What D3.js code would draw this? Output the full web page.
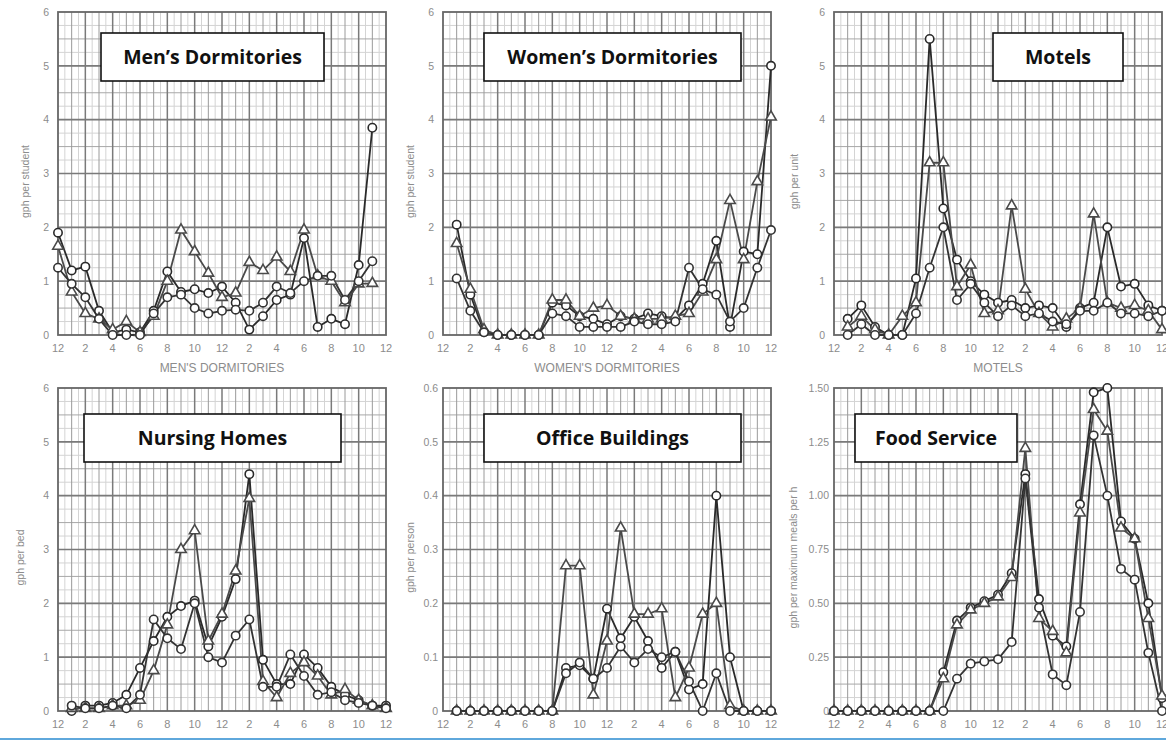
<!DOCTYPE html>
<html>
<head>
<meta charset="utf-8">
<script src="https://cdn.jsdelivr.net/npm/d3@7"></script>
<style>
body { margin: 0; background: #fff; }
svg { display: block; }
.tick-label, .axis-title { font-family: "Liberation Sans", Arial, sans-serif; fill: #8c8c8c; }
.box-title { font-family: "Open Sans", sans-serif; font-weight: 700; fill: #111; }
</style>
</head>
<body>
<div id="chart"></div>
<script>
// hour positions (0 = midnight)
var hours0to23 = [0,1,2,3,4,5,6,7,8,9,10,11,12,13,14,15,16,17,18,19,20,21,22,23];
var hours1to24 = [1,2,3,4,5,6,7,8,9,10,11,12,13,14,15,16,17,18,19,20,21,22,23,24];
var hours0to24 = [0,1,2,3,4,5,6,7,8,9,10,11,12,13,14,15,16,17,18,19,20,21,22,23,24];
var hourTicks = [0,2,4,6,8,10,12,14,16,18,20,22,24];
var hourLabels = ["12","2","4","6","8","10","12","2","4","6","8","10","12"];

// men's dormitories, gph per student
var menCircleA = [1.9,1.2,1.27,0.45,0.05,0.1,0.05,0.45,1.18,0.8,0.85,0.78,0.9,0.6,0.1,0.35,0.65,0.75,1.8,0.15,0.3,0.2,1.3,3.85];
var menTriangle = [1.65,0.8,0.4,0.3,0.1,0.25,0.05,0.35,1.0,1.95,1.55,1.15,0.7,0.78,1.35,1.2,1.45,1.18,1.95,1.1,1.0,0.6,0.95,0.96];
var menCircleB = [1.25,0.95,0.7,0.3,0.0,0.0,0.0,0.4,0.7,0.75,0.5,0.4,0.45,0.47,0.45,0.6,0.9,0.78,1.0,1.1,1.1,0.65,1.0,1.37];

// women's dormitories, gph per student
var womenCircleA = [2.05,0.75,0.05,0,0,0,0,0.6,0.55,0.35,0.3,0.2,0.35,0.3,0.4,0.35,0.3,0.55,0.95,1.75,0.15,1.55,1.5,5.0];
var womenTriangle = [1.7,0.85,0.1,0,0,0,0,0.65,0.65,0.35,0.5,0.55,0.35,0.3,0.3,0.3,0.35,0.4,0.8,1.4,2.5,1.4,2.85,4.05];
var womenCircleB = [1.05,0.45,0.05,0,0,0,0,0.4,0.35,0.15,0.15,0.15,0.15,0.25,0.2,0.2,0.25,1.25,0.85,0.75,0.25,0.5,1.25,1.95];

// motels, gph per unit
var motelCircleA = [0.3,0.55,0.15,0,0,1.05,5.5,2.35,1.4,1.0,0.75,0.6,0.65,0.5,0.55,0.5,0.15,0.5,0.6,2.0,0.9,0.95,0.55,0.45];
var motelTriangle = [0.15,0.35,0.1,0,0.35,0.6,3.2,3.2,0.9,1.3,0.4,0.45,2.4,0.85,0.4,0.15,0.3,0.5,2.25,0.6,0.5,0.55,0.45,0.1];
var motelCircleB = [0,0.2,0,0,0,0.4,1.25,2.0,0.65,0.95,0.6,0.35,0.55,0.35,0.4,0.25,0.2,0.45,0.45,0.6,0.4,0.4,0.35,0.45];

// nursing homes, gph per bed
var nursingCircleA = [0,0.1,0.1,0.15,0.3,0.8,1.3,1.75,1.95,2.05,1.2,1.75,2.45,4.4,0.95,0.5,0.5,1.05,0.8,0.45,0.3,0.2,0.1,0.1];
var nursingTriangle = [0.05,0.05,0.05,0.1,0.1,0.2,0.75,1.6,3.0,3.35,1.3,1.8,2.6,3.95,0.55,0.25,0.7,0.9,0.65,0.3,0.4,0.2,0.1,0.05];
var nursingCircleB = [0.1,0.05,0.05,0.1,0.05,0.3,1.7,1.35,1.15,2.0,1.0,0.9,1.4,1.7,0.45,0.45,1.05,0.65,0.3,0.35,0.2,0.15,0.1,0.05];

// office buildings, gph per person
var officeCircleA = [0,0,0,0,0,0,0,0,0.08,0.085,0.06,0.19,0.135,0.175,0.13,0.08,0.11,0.04,0.05,0.40,0.10,0,0,0];
var officeTriangle = [0,0,0,0,0,0,0,0,0.27,0.27,0.03,0.13,0.34,0.18,0.18,0.19,0.025,0.08,0.18,0.20,0.01,0,0,0];
var officeCircleB = [0,0,0,0,0,0,0,0,0.07,0.09,0.06,0.08,0.12,0.09,0.115,0.10,0.11,0.055,0,0.07,0,0,0,0];

// food service (type A), gph per maximum meals per h
var foodCircleA = [0,0,0,0,0,0,0,0,0.18,0.42,0.48,0.51,0.54,0.64,1.10,0.52,0.35,0.30,0.96,1.48,1.50,0.88,0.80,0.50,0.06];
var foodTriangle = [0,0,0,0,0,0,0,0,0.15,0.40,0.47,0.50,0.53,0.62,1.22,0.43,0.37,0.27,0.92,1.40,1.30,0.85,0.80,0.43,0.07];
var foodCircleB = [0,0,0,0,0,0,0,0,0,0.15,0.22,0.23,0.24,0.32,1.08,0.48,0.17,0.12,0.46,1.28,1.00,0.66,0.61,0.27,0];

var titles = ["Men\u2019s Dormitories","Women\u2019s Dormitories","Motels","Nursing Homes","Office Buildings","Food Service"];
var xTitles = ["MEN'S DORMITORIES","WOMEN'S DORMITORIES","MOTELS","NURSING HOMES","OFFICE BUILDINGS","FOOD SERVICE (TYPE A)"];
var yTitles = ["gph per student","gph per student","gph per unit","gph per bed","gph per person","gph per maximum meals per h"];

var ticks0to6 = [0,1,2,3,4,5,6];
var ticksOffice = [0,0.1,0.2,0.3,0.4,0.5,0.6];
var ticksFood = [0,0.25,0.5,0.75,1,1.25,1.5];
var labels0to6 = ["0","1","2","3","4","5","6"];
var labelsOffice = ["0","0.1","0.2","0.3","0.4","0.5","0.6"];
var labelsFood = ["0","0.25","0.50","0.75","1.00","1.25","1.50"];

var width = 1166, height = 743;
var svg = d3.select("#chart").append("svg")
    .attr("width", width)
    .attr("height", height);

var colLeft = [58, 443, 834], rowTop = [12, 388];
var plotW = 328, plotH = 323;

// title box positions [x, y, w]
var boxes = [[101,33,223],[484,33,257],[993,33,130],[84,414,257],[484,414,257],[855,414,162]];
var yTitleOffset = [33, 33, 40, 38, 33, 41];

var panels = [
  {hours: hours0to23, series: [menCircleA, menTriangle, menCircleB], max: 6, ticks: ticks0to6, labels: labels0to6, pad: 9},
  {hours: hours1to24, series: [womenCircleA, womenTriangle, womenCircleB], max: 6, ticks: ticks0to6, labels: labels0to6, pad: 9},
  {hours: hours1to24, series: [motelCircleA, motelTriangle, motelCircleB], max: 6, ticks: ticks0to6, labels: labels0to6, pad: 9},
  {hours: hours1to24, series: [nursingCircleA, nursingTriangle, nursingCircleB], max: 6, ticks: ticks0to6, labels: labels0to6, pad: 9},
  {hours: hours1to24, series: [officeCircleA, officeTriangle, officeCircleB], max: 0.6, ticks: ticksOffice, labels: labelsOffice, pad: 5},
  {hours: hours0to24, series: [foodCircleA, foodTriangle, foodCircleB], max: 1.5, ticks: ticksFood, labels: labelsFood, pad: 5}
];

var markerTypes = [d3.symbolCircle, d3.symbolTriangle, d3.symbolCircle];
var lineColors = ["#2a2a2a", "#4a4a4a", "#333"];

panels.forEach(function(p, i) {
    var left = colLeft[i % 3], top = rowTop[Math.floor(i / 3)];
    var x = d3.scaleLinear().domain([0, 24]).range([0, plotW]);
    var y = d3.scaleLinear().domain([0, p.max]).range([plotH, 0]);
    var step = p.ticks[1] - p.ticks[0];

    var g = svg.append("g").attr("transform", "translate(" + left + "," + top + ")");

    // grid: half hour, hour, even hour
    var halfHours = d3.range(0.5, 24, 1);
    g.append("g").selectAll("line").data(halfHours).enter().append("line")
        .attr("x1", function(d) { return x(d); }).attr("x2", function(d) { return x(d); })
        .attr("y1", 0).attr("y2", plotH)
        .attr("stroke", "#d4d4d4").attr("stroke-width", 1);
    var fineY = d3.range(step / 4, p.max, step / 4);
    g.append("g").selectAll("line").data(fineY).enter().append("line")
        .attr("x1", 0).attr("x2", plotW)
        .attr("y1", function(d) { return y(d); }).attr("y2", function(d) { return y(d); })
        .attr("stroke", function(d, k) { return (k % 4 == 1) ? "#a8a8a8" : "#d4d4d4"; })
        .attr("stroke-width", 1);
    g.append("g").selectAll("line").data(d3.range(1, 24)).enter().append("line")
        .attr("x1", function(d) { return x(d); }).attr("x2", function(d) { return x(d); })
        .attr("y1", 0).attr("y2", plotH)
        .attr("stroke", function(d) { return d % 2 ? "#9a9a9a" : "#7a7a7a"; })
        .attr("stroke-width", function(d) { return d % 2 ? 1 : 1.5; });
    g.append("g").selectAll("line").data(p.ticks.slice(1, -1)).enter().append("line")
        .attr("x1", 0).attr("x2", plotW)
        .attr("y1", function(d) { return y(d); }).attr("y2", function(d) { return y(d); })
        .attr("stroke", "#7a7a7a").attr("stroke-width", 1.6);
    g.append("rect")
        .attr("width", plotW).attr("height", plotH)
        .attr("fill", "none").attr("stroke", "#666").attr("stroke-width", 1.8);

    // y tick labels
    g.append("g").selectAll("text").data(p.ticks).enter().append("text")
        .attr("class", "tick-label")
        .attr("x", -p.pad).attr("y", function(d) { return y(d); })
        .attr("dy", "0.35em")
        .attr("text-anchor", "end")
        .style("font-size", "10.5px")
        .text(function(d, k) { return p.labels[k]; });

    // x tick labels
    g.append("g").selectAll("text").data(hourTicks).enter().append("text")
        .attr("class", "tick-label")
        .attr("x", function(d) { return x(d); }).attr("y", plotH + 17)
        .attr("text-anchor", "middle")
        .style("font-size", "11px")
        .text(function(d, k) { return hourLabels[k]; });

    g.append("text")
        .attr("class", "axis-title")
        .attr("x", plotW / 2).attr("y", plotH + 37)
        .attr("text-anchor", "middle")
        .style("font-size", "12px")
        .text(xTitles[i]);

    g.append("text")
        .attr("class", "axis-title")
        .attr("transform", "translate(" + (-yTitleOffset[i] + 4) + "," + (plotH / 2 + 8) + ") rotate(-90)")
        .attr("text-anchor", "middle")
        .style("font-size", "10.5px")
        .text(yTitles[i]);

    // series
    var line = d3.line()
        .x(function(d) { return x(d[0]); })
        .y(function(d) { return y(d[1]); });

    p.series.forEach(function(values, s) {
        var pts = values.map(function(v, k) { return [p.hours[k], v]; });
        g.append("path")
            .datum(pts)
            .attr("d", line)
            .attr("fill", "none")
            .attr("stroke", lineColors[s])
            .attr("stroke-width", 1.8);
    });
    p.series.forEach(function(values, s) {
        var pts = values.map(function(v, k) { return [p.hours[k], v]; });
        g.append("g").selectAll("path").data(pts).enter().append("path")
            .attr("d", d3.symbol().type(markerTypes[s]).size(s == 1 ? 48 : 55))
            .attr("transform", function(d) { return "translate(" + x(d[0]) + "," + y(d[1]) + ")"; })
            .attr("fill", "#fff")
            .attr("stroke", lineColors[s])
            .attr("stroke-width", 1.6);
    });

    // title box
    var b = boxes[i];
    svg.append("rect")
        .attr("x", b[0]).attr("y", b[1])
        .attr("width", b[2]).attr("height", 48)
        .attr("fill", "#fff").attr("stroke", "#111").attr("stroke-width", 1.6);
    svg.append("text")
        .attr("class", "box-title")
        .attr("x", b[0] + b[2] / 2).attr("y", b[1] + 24)
        .attr("dy", "0.35em")
        .attr("text-anchor", "middle")
        .style("font-size", "19.5px")
        .text(titles[i]);
});

// blue rule along the bottom edge
svg.append("rect")
    .attr("x", 0).attr("y", 738)
    .attr("width", width).attr("height", 5)
    .attr("fill", "#fff");
svg.append("rect")
    .attr("x", 0).attr("y", 738)
    .attr("width", width).attr("height", 2)
    .attr("fill", "#5fa8dc");
</script>
</body>
</html>
